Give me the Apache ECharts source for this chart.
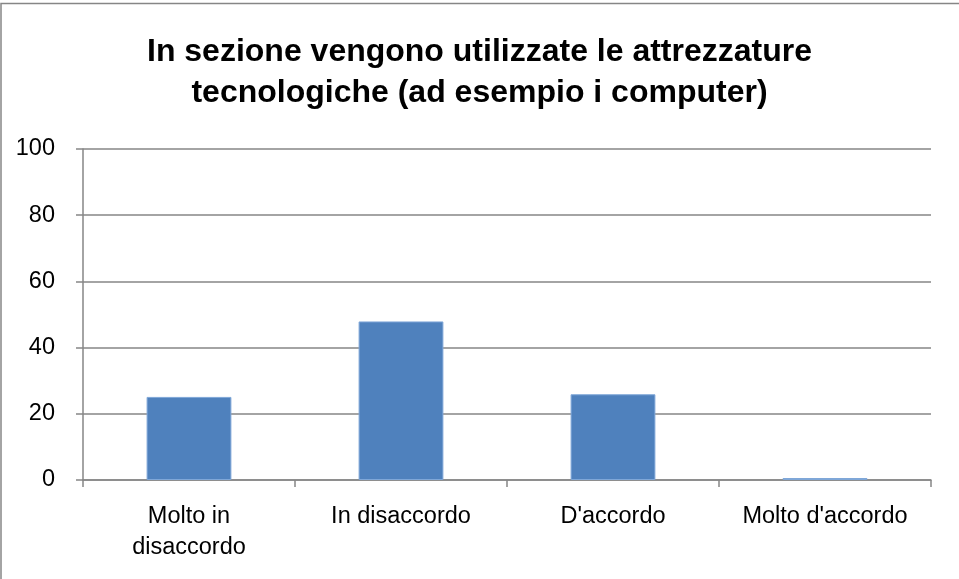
<!DOCTYPE html>
<html>
<head>
<meta charset="utf-8">
<script src="https://cdn.jsdelivr.net/npm/echarts@6/dist/echarts.min.js"></script>
<style>
  html, body { margin: 0; padding: 0; background: #fff; }
  #main { width: 959px; height: 579px; }
</style>
</head>
<body>
<div id="main"></div>
<script>
// dati
const titolo = 'In sezione vengono utilizzate le attrezzature\ntecnologiche (ad esempio i computer)'
const categorie = ['Molto in disaccordo', 'In disaccordo', "D'accordo", "Molto d'accordo"]
const valori = [25.1, 47.9, 25.9, 0.6]
const yTicks = [0, 20, 40, 60, 80, 100]

const font = 'Liberation Sans'
const chart = echarts.init(document.getElementById('main'))

const option = {
  backgroundColor: '#fff',
  animation: false,
  title: {
    text: titolo,
    left: 'center',
    top: 27,
    textStyle: {
      fontFamily: font,
      fontSize: 32,
      fontWeight: 'bold',
      color: '#000',
      lineHeight: 41
    }
  },
  graphic: [{
    type: 'rect',
    shape: { x: 1, y: 3.5, width: 965, height: 590 },
    style: { fill: 'none', stroke: '#868686', lineWidth: 1.5 },
    silent: true
  }],
  grid: {
    left: 83,
    right: 28,
    top: 149,
    bottom: 99,
    containLabel: false
  },
  xAxis: {
    type: 'category',
    data: categorie,
    axisLine: { lineStyle: { color: '#868686', width: 1.5 } },
    axisTick: { show: true, interval: 0, length: 7, lineStyle: { color: '#868686', width: 1.5 } },
    axisLabel: {
      interval: 0,
      hideOverlap: false,
      fontFamily: font,
      fontSize: 23.5,
      color: '#000',
      margin: 21,
      lineHeight: 31,
      // Excel manda a capo la prima etichetta
      formatter: v => v === 'Molto in disaccordo' ? 'Molto in\ndisaccordo' : v
    }
  },
  yAxis: {
    type: 'value',
    min: yTicks[0],
    max: yTicks[yTicks.length - 1],
    interval: 20,
    axisLine: { show: true, lineStyle: { color: '#868686', width: 1.5 } },
    axisTick: { show: true, length: 7, lineStyle: { color: '#868686', width: 1.5 } },
    axisLabel: {
      fontFamily: font,
      fontSize: 23.5,
      color: '#000',
      margin: 28
    },
    splitLine: { lineStyle: { color: '#868686', width: 1.5 } }
  },
  series: [{
    type: 'bar',
    data: valori,
    barWidth: '40%',
    itemStyle: {
      color: '#4F81BD',
      borderColor: '#7FA7D8',
      borderWidth: 1
    }
  }]
}

option && chart.setOption(option)
</script>
</body>
</html>
